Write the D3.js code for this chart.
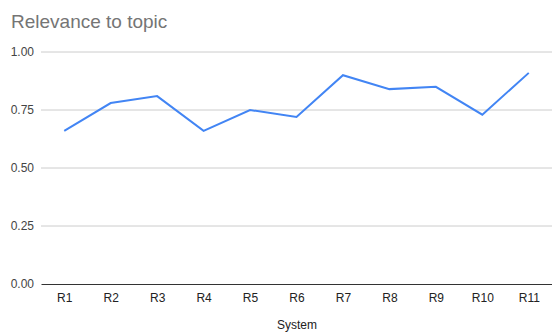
<!DOCTYPE html>
<html>
<head>
<meta charset="UTF-8" />
<script src="https://d3js.org/d3.v7.min.js"></script>
<style>
  body { margin: 0; background: #fff; font-family: Arial, "Liberation Sans", sans-serif; }
  svg { display: block; }
</style>
</head>
<body>
<svg id="chart"></svg>
<script>
  const systems = ["R1", "R2", "R3", "R4", "R5", "R6", "R7", "R8", "R9", "R10", "R11"];
  const relevance = [0.66, 0.78, 0.81, 0.66, 0.75, 0.72, 0.90, 0.84, 0.85, 0.73, 0.91];
  const yTicks = [0, 0.25, 0.5, 0.75, 1];

  const W = 552, H = 332;
  const margin = { top: 52, right: 0, bottom: 48, left: 41 };
  const width = W - margin.left - margin.right;
  const height = H - margin.top - margin.bottom;
  const font = "Arial, 'Liberation Sans', sans-serif";

  const svg = d3.select("#chart").attr("width", W).attr("height", H);

  svg.append("text")
     .attr("x", 11).attr("y", 28)
     .attr("font-size", 19)
     .attr("font-family", font)
     .attr("fill", "#757575")
     .text("Relevance to topic");

  const g = svg.append("g").attr("transform", `translate(${margin.left},${margin.top})`);

  const x = d3.scalePoint().domain(systems).range([0, width]).padding(0.5);
  const y = d3.scaleLinear().domain([0, 1]).range([height, 0]);

  // gridlines
  g.selectAll(".grid")
   .data(yTicks.filter(d => d > 0))
   .enter().append("line")
     .attr("x1", 0).attr("x2", width)
     .attr("y1", d => y(d)).attr("y2", d => y(d))
     .attr("stroke", "#cccccc").attr("stroke-width", 1);

  const yAxis = g.append("g")
     .call(d3.axisLeft(y).tickValues(yTicks).tickFormat(d3.format(".2f")).tickSize(0).tickPadding(7));
  yAxis.select(".domain").remove();
  yAxis.selectAll("text").attr("font-size", 12).attr("fill", "#444").attr("font-family", font);

  const xAxis = g.append("g")
     .attr("transform", `translate(0,${height})`)
     .call(d3.axisBottom(x).tickSize(0).tickPadding(9));
  xAxis.select(".domain").attr("stroke", "#333").attr("stroke-width", 1);
  xAxis.selectAll("text").attr("font-size", 12).attr("fill", "#222").attr("font-family", font);

  const line = d3.line()
     .x((d, i) => x(systems[i]))
     .y(d => y(d));

  g.append("path")
   .datum(relevance)
   .attr("fill", "none")
   .attr("stroke", "#4285f4")
   .attr("stroke-width", 2)
   .attr("d", line);

  svg.append("text")
     .attr("x", 297).attr("y", 329)
     .attr("text-anchor", "middle")
     .attr("font-size", 12)
     .attr("font-family", font)
     .attr("fill", "#222")
     .text("System");
</script>
</body>
</html>
